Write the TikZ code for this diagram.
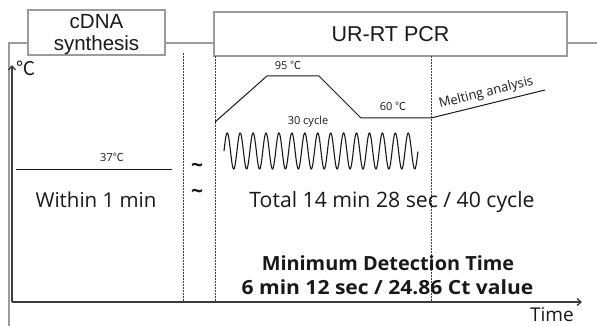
\documentclass[tikz,border=0pt]{standalone}
\usepackage{fontspec}
\setmainfont{Open Sans}
\newfontfamily\boxfont{Liberation Sans}
\newfontfamily\cjk{Noto Sans CJK KR}
\usetikzlibrary{arrows.meta}
\definecolor{framegray}{RGB}{155,155,155}
\definecolor{ink}{RGB}{25,25,25}
\newcommand{\fs}[1]{\fontsize{#1}{#1}\selectfont}
\begin{document}
\begin{tikzpicture}[x=1pt,y=-1pt,
  frameline/.style={draw=framegray,line width=1.1pt},
  titlebox/.style={draw=framegray,line width=1.1pt,fill=white,inner sep=0pt,align=center,text=ink},
  axisline/.style={draw=ink!85,line width=1.3pt,-{Straight Barb[length=4pt,width=7pt]}},
  divider/.style={draw=ink!85,line width=0.9pt,dash pattern=on 2pt off 1pt},
  profile/.style={draw=ink,line width=1pt},
  lbl/.style={inner sep=0pt,anchor=base,text=ink}]
\useasboundingbox (0,0) rectangle (597,326);

% title boxes
\node[titlebox,minimum width=137pt,minimum height=45pt] (box1) at (96.5,32.5) {};
\node[lbl,font=\boxfont\fs{20.5}] (cdna) at (96.5,29) {cDNA};
\node[lbl,font=\boxfont\fs{20.5}] (synth) at (96.5,51) {synthesis};
\node[titlebox,minimum width=353pt,minimum height=44pt] (box2) at (390.5,34) {};
\node[lbl,font=\boxfont\fs{21.5}] (urrt) at (390.5,42) {UR-RT PCR};

% frame
\coordinate (fbl) at (9,340);
\coordinate (ftl) at (9,43);
\coordinate (ftr) at (610,43);
\draw[frameline] (fbl) -- (ftl) -- (box1.west |- ftl);
\draw[frameline] (box1.east |- ftl) -- (box2.west |- ftl);
\draw[frameline] (box2.east |- ftl) -- (ftr);

% axes
\coordinate (origin) at (12,302);
\coordinate (ytip) at (12,65);
\coordinate (xtip) at (582,302);
\draw[axisline] (origin) -- (ytip);
\draw[axisline] (origin) -- (xtip);
\node[lbl,font=\cjk\fs{19}] (degc) at (26,76) {℃};
\node[lbl,font=\fs{19}] (time) at (552,321) {Time};

% dividers
\coordinate (d1t) at (183,53);
\coordinate (d2t) at (215,56);
\coordinate (d3t) at (431,56);
\draw[divider] (d1t) -- (d1t |- origin);
\draw[divider] (d2t) -- (d2t |- origin);
\draw[divider] (d3t) -- (d3t |- origin);

% cDNA synthesis phase
\coordinate (rt1) at (16,169);
\coordinate (rt2) at (172,169);
\draw[profile] (rt1) -- (rt2);
\node[lbl,font=\fs{11}] (t37) at (112,161) {37{\cjk ℃}};
\node[lbl,font=\fs{20.5}] (within) at (96,207) {Within 1 min};
\node[lbl,font=\bfseries\fs{21}] (tilde1) at (197,172) {\textasciitilde};
\node[lbl,font=\bfseries\fs{21}] (tilde2) at (197,198) {\textasciitilde};

% PCR profile
\coordinate (p0) at (215,122);
\coordinate (p1) at (267,76);
\coordinate (p2) at (319,76);
\coordinate (p3) at (361,118);
\coordinate (p4) at (431,118);
\coordinate (p5) at (545,90);
\draw[profile] (p0) -- (p1) -- (p2) -- (p3) -- (p4) -- (p5);
\node[lbl,font=\fs{11}] (t95) at (288,70) {95 {\cjk ℃}};
\node[lbl,font=\fs{11}] (t60) at (393,111) {60 {\cjk ℃}};
\node[lbl,font=\fs{11}] (cyc) at (308,125) {30 cycle};
\node[lbl,font=\fs{13},rotate=14,anchor=base west] (melt) at (440,108) {Melting analysis};

% cycling wave
\draw[profile,line width=1.1pt] plot[domain=0:15,samples=400,smooth] ({224+\x*12.93},{151-18*sin(360*\x)});

% totals
\node[lbl,font=\fs{21.2}] (total) at (392,207) {Total 14 min 28 sec / 40 cycle};
\node[lbl,font=\bfseries\fs{19.5},xscale=1.02] (mdt) at (388,270) {Minimum Detection Time};
\node[lbl,font=\bfseries\fs{19.5},xscale=1.08] (ct) at (387.5,294) {6 min 12 sec / 24.86 Ct value};
\end{tikzpicture}
\end{document}
